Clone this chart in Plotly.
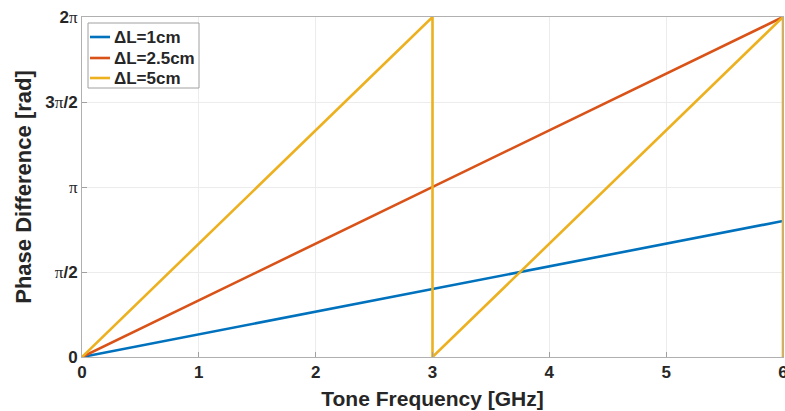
import numpy as np
import plotly.graph_objects as go

PI = np.pi
# Tone frequency [GHz] and phase difference [rad]
f_1cm = [0, 6]
p_1cm = [0, 0.8 * PI]
f_25cm = [0, 3, 6]
p_25cm = [0, PI, 2 * PI]
f_5cm = [0, 3, 3, 6, 6]
p_5cm = [0, 2 * PI, 0, 2 * PI, 0]

names = ["ΔL=1cm", "ΔL=2.5cm", "ΔL=5cm"]
colors = ["#0072BD", "#D95319", "#EDB120"]

xtick_vals = [0, 1, 2, 3, 4, 5, 6]
ytick_vals = [0, PI / 2, PI, 3 * PI / 2, 2 * PI]
pi_s = "<span style='font-family:Liberation Serif;font-weight:normal'>π</span>"
ytick_text = ["0", pi_s + "/2", pi_s, "3" + pi_s + "/2", "2" + pi_s]

W, H = 785, 411
ML, MR, MT, MB = 82, 2, 17, 54
PW, PH = W - ML - MR, H - MT - MB


def px(xpix):
    return (xpix - ML) / PW


def py(ypix):
    return (H - MB - ypix) / PH


fig = go.Figure()
for xs, ys, n, c in [(f_1cm, p_1cm, names[0], colors[0]),
                     (f_25cm, p_25cm, names[1], colors[1]),
                     (f_5cm, p_5cm, names[2], colors[2])]:
    fig.add_trace(go.Scatter(x=xs, y=ys, mode="lines", name=n,
                             line=dict(color=c, width=2.6), showlegend=False))

axis_common = dict(
    showline=True, linecolor="#b0b0b0", linewidth=1, mirror=True,
    showgrid=True, gridcolor="#ececec", gridwidth=1,
    ticks="inside", ticklen=5, tickcolor="#a0a0a0",
    zeroline=False, automargin=False, ticklabeloverflow="allow",
    tickfont=dict(family="Liberation Sans", size=17, color="#262626", weight="bold"),
)

# MATLAB-style compact legend box
shapes = [dict(type="rect", xref="paper", yref="paper",
               x0=px(88), x1=px(199), y0=py(88), y1=py(23),
               fillcolor="white", line=dict(color="#a0a0a0", width=1), layer="above")]
annotations = []
row_y = [37, 58, 78]
for n, c, ry in zip(names, colors, row_y):
    shapes.append(dict(type="line", xref="paper", yref="paper",
                       x0=px(90), x1=px(110), y0=py(ry), y1=py(ry),
                       line=dict(color=c, width=2.6), layer="above"))
    annotations.append(dict(text="<b>" + n + "</b>", xref="paper", yref="paper",
                            x=px(112), y=py(ry), xanchor="left", yanchor="middle",
                            showarrow=False,
                            font=dict(family="Liberation Sans", size=17, color="#262626")))

fig.update_layout(
    width=W, height=H,
    margin=dict(l=ML, r=MR, t=MT, b=MB),
    plot_bgcolor="white", paper_bgcolor="white",
    font=dict(family="Liberation Sans", color="#262626"),
    xaxis=dict(range=[0, 6], tickvals=xtick_vals,
               title=dict(text="<b>Tone Frequency [GHz]</b>", font=dict(size=21), standoff=9),
               **axis_common),
    yaxis=dict(range=[0, 2 * PI], tickvals=ytick_vals, ticktext=ytick_text,
               title=dict(text="<b>Phase Difference [rad]</b>", font=dict(size=22), standoff=7),
               **axis_common),
    shapes=shapes,
    annotations=annotations,
    showlegend=False,
)

fig.write_html("out.html", config={"displayModeBar": False},
               post_script="document.body.style.margin='0';document.body.style.overflow='hidden';")
